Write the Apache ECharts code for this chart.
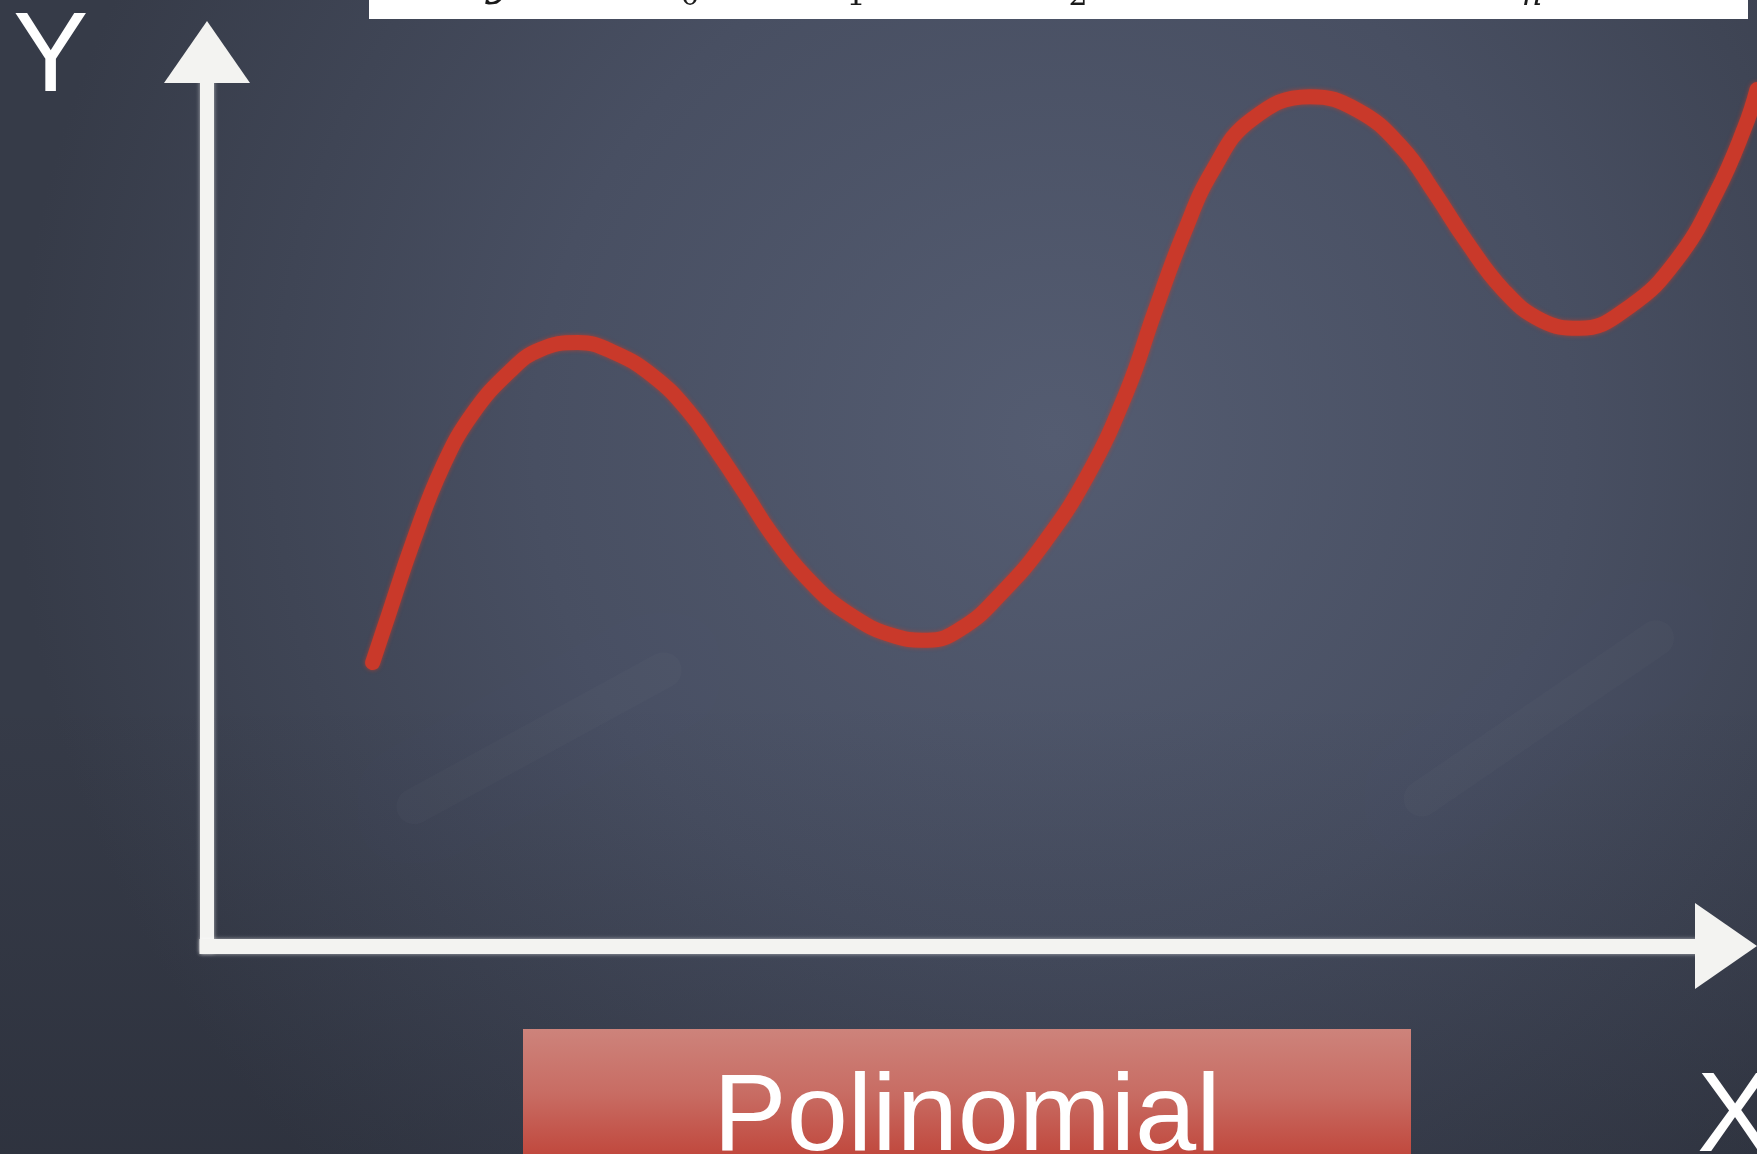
<!DOCTYPE html>
<html>
<head>
<meta charset="utf-8">
<script src="https://cdn.jsdelivr.net/npm/echarts@6/dist/echarts.min.js"></script>
<style>
  html, body { margin: 0; padding: 0; background: #3c4252; }
  #chart { width: 1757px; height: 1154px; }
</style>
</head>
<body>
<div id="chart"></div>
<script>
const curveX = [1.09, 1.19, 1.36, 1.55, 1.75, 2.0, 2.19, 2.44, 2.69, 2.94, 3.16, 3.35, 3.55, 3.71, 3.94,
  4.21, 4.54, 4.74, 4.98, 5.23, 5.5, 5.79, 6.05, 6.24, 6.43, 6.62, 6.87, 7.26, 7.57, 7.86,
  8.08, 8.28, 8.53, 8.78, 9.03, 9.36, 9.67, 9.93, 10.12, 10.2];
const curveY = [3.17, 3.68, 4.54, 5.36, 5.96, 6.44, 6.67, 6.75, 6.63, 6.37, 6.0, 5.55, 5.04, 4.62, 4.13,
  3.73, 3.46, 3.42, 3.57, 3.95, 4.49, 5.25, 6.19, 7.11, 7.98, 8.68, 9.24, 9.5, 9.35, 8.94,
  8.42, 7.9, 7.34, 7.0, 6.91, 7.15, 7.67, 8.42, 9.16, 9.58];

const axisNames = ['X', 'Y'];
const boxLabel = 'Polinomial';
// bits of the formula strip that peek out under the top edge
const formulaBits = [
  { t: 'y', x: 501, italic: true, size: 50 },
  { t: '0', x: 690, italic: false, size: 30 },
  { t: '1', x: 856, italic: false, size: 30 },
  { t: '2', x: 1078, italic: false, size: 30 },
  { t: 'n', x: 1532, italic: true, size: 32 }
];

const chalk = '#f3f3f1';
const chart = echarts.init(document.getElementById('chart'));

const hidden = {
  axisLine: { show: false }, axisTick: { show: false }, axisLabel: { show: false }, splitLine: { show: false }
};
const chalkAxis = (width) => ({
  axisLine: {
    show: true, symbol: ['none', 'triangle'], symbolSize: [86, 62],
    lineStyle: { color: chalk, width: width, cap: 'square', shadowColor: 'rgba(255,255,255,0.6)', shadowBlur: 4 }
  },
  axisTick: { show: false }, axisLabel: { show: false }, splitLine: { show: false }
});

chart.setOption({
  backgroundColor: {
    type: 'radial', x: 0.6, y: 0.38, r: 0.9,
    colorStops: [
      { offset: 0, color: '#545c71' },
      { offset: 0.5, color: '#484f62' },
      { offset: 1, color: '#363b48' }
    ]
  },
  animation: false,
  grid: [
    { left: 207, right: 31, top: 52, bottom: 208 },
    { left: 207, right: 0, top: 52, bottom: 208 }
  ],
  xAxis: [
    { type: 'value', min: 0, max: 10, gridIndex: 0, ...chalkAxis(15) },
    { type: 'value', min: 0, max: 10.2, gridIndex: 1, ...hidden }
  ],
  yAxis: [
    { type: 'value', min: 0, max: 10, gridIndex: 0, ...chalkAxis(14) },
    { type: 'value', min: 0, max: 10, gridIndex: 1, ...hidden }
  ],
  series: [{
    type: 'line',
    xAxisIndex: 1,
    yAxisIndex: 1,
    data: curveX.map((x, i) => [x, curveY[i]]),
    smooth: 0.45,
    showSymbol: false,
    clip: false,
    lineStyle: { color: '#c9392a', width: 15, cap: 'round', shadowColor: 'rgba(205,60,40,0.7)', shadowBlur: 4 }
  }],
  graphic: [
    // darker lower band of the board
    { type: 'rect', z: -10, silent: true, shape: { x: 0, y: 700, width: 1757, height: 454 },
      style: { fill: new echarts.graphic.LinearGradient(0, 0, 0, 1, [
        { offset: 0, color: 'rgba(20,22,30,0)' },
        { offset: 1, color: 'rgba(20,22,30,0.22)' }
      ]) } },
    // chalk smudges
    { type: 'rect', shape: { x: 380, y: 720, width: 320, height: 36, r: 18 }, rotation: 0.5, originX: 540, originY: 740,
      style: { fill: 'rgba(200,205,215,0.025)', shadowBlur: 35, shadowColor: 'rgba(200,205,215,0.1)' } },
    { type: 'rect', shape: { x: 1380, y: 700, width: 320, height: 36, r: 18 }, rotation: 0.6, originX: 1540, originY: 720,
      style: { fill: 'rgba(200,205,215,0.025)', shadowBlur: 35, shadowColor: 'rgba(200,205,215,0.1)' } },
    // formula strip
    { type: 'rect', shape: { x: 369, y: 0, width: 1379, height: 19 }, style: { fill: '#ffffff' } },
    ...formulaBits.map(b => ({
      type: 'text', x: b.x, y: b.t === 'y' ? -20 : -3,
      style: {
        text: b.t, fill: '#1a1a1a', align: 'center', verticalAlign: 'middle',
        font: (b.italic ? 'italic ' : '') + b.size + 'px "DejaVu Serif", serif'
      }
    })),
    // axis letters
    { type: 'text', x: 13, y: 60, style: { text: axisNames[1], fill: '#ffffff', verticalAlign: 'middle',
      font: '113px "Liberation Sans", Arial, sans-serif' } },
    { type: 'text', x: 1697, y: 1120, style: { text: axisNames[0], fill: '#ffffff', verticalAlign: 'middle',
      font: '113px "Liberation Sans", Arial, sans-serif' } },
    // red label box
    { type: 'rect', shape: { x: 523, y: 1029, width: 888, height: 130 },
      style: { fill: new echarts.graphic.LinearGradient(0, 0, 0, 1, [
        { offset: 0, color: '#cd837b' },
        { offset: 0.5, color: '#c86c63' },
        { offset: 1, color: '#c0463b' }
      ]) } },
    { type: 'text', x: 967, y: 1120, style: { text: boxLabel, fill: '#ffffff', align: 'center', verticalAlign: 'middle',
      font: '110px "Liberation Sans", Arial, sans-serif' } }
  ]
});
</script>
</body>
</html>
